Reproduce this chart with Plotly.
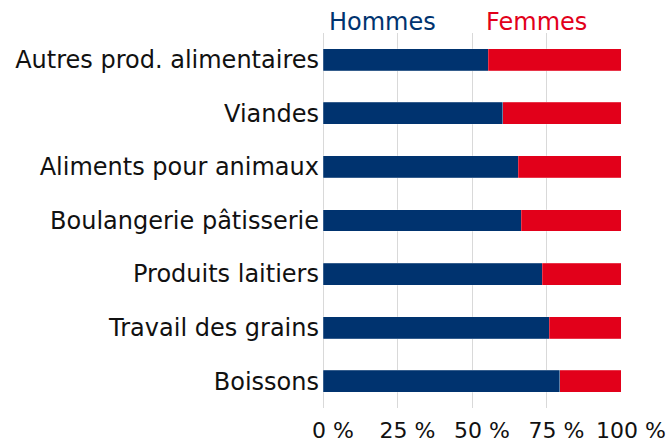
import plotly.graph_objects as go

categories = ["Autres prod. alimentaires", "Viandes", "Aliments pour animaux",
              "Boulangerie pâtisserie", "Produits laitiers", "Travail des grains", "Boissons"]
hommes = [55.4, 60.3, 65.6, 66.5, 73.6, 76.0, 79.5]
femmes = [44.6, 39.7, 34.4, 33.5, 26.4, 24.0, 20.5]
tick_vals = [0, 25, 50, 75, 100]
tick_text = ["0 %", "25 %", "50 %", "75 %", "100 %"]

C_H = "#00336F"
C_F = "#E2001A"
FONT = "DejaVu Sans"

fig = go.Figure()
fig.add_trace(go.Bar(y=categories, x=hommes, orientation="h", name="Hommes",
                     marker=dict(color=C_H, line=dict(color="rgba(255,255,255,0.35)", width=0.6))))
fig.add_trace(go.Bar(y=categories, x=femmes, orientation="h", name="Femmes",
                     marker=dict(color=C_F, line=dict(color="rgba(255,255,255,0.35)", width=0.6))))

fig.update_layout(
    barmode="stack", bargap=0.59,
    width=667, height=446,
    margin=dict(l=323, r=46, t=33, b=38, autoexpand=False),
    plot_bgcolor="white", paper_bgcolor="white",
    showlegend=False,
    font=dict(family=FONT, size=22, color="#111111"),
    xaxis=dict(range=[0, 100], tickvals=tick_vals, ticktext=tick_text,
               showgrid=True, gridcolor="#d9d9d9", gridwidth=1,
               zeroline=True, zerolinecolor="#d9d9d9", zerolinewidth=1,
               showline=False, ticks="", ticklabelshift=10, ticklabelstandoff=7,
               tickfont=dict(size=22), automargin=False),
    yaxis=dict(autorange="reversed", showgrid=False, showline=False, ticks="",
               ticklabelstandoff=3, tickfont=dict(size=24), automargin=False),
)
fig.add_annotation(text="Hommes", x=20.1, y=1, xref="x", yref="paper", yanchor="bottom",
                   showarrow=False, yshift=-5, font=dict(color=C_H, size=24, family=FONT))
fig.add_annotation(text="Femmes", x=71.8, y=1, xref="x", yref="paper", yanchor="bottom",
                   showarrow=False, yshift=-5, font=dict(color=C_F, size=24, family=FONT))
fig.write_html("out.html", config={"displayModeBar": False},
               post_script="document.body.style.margin='0';")
